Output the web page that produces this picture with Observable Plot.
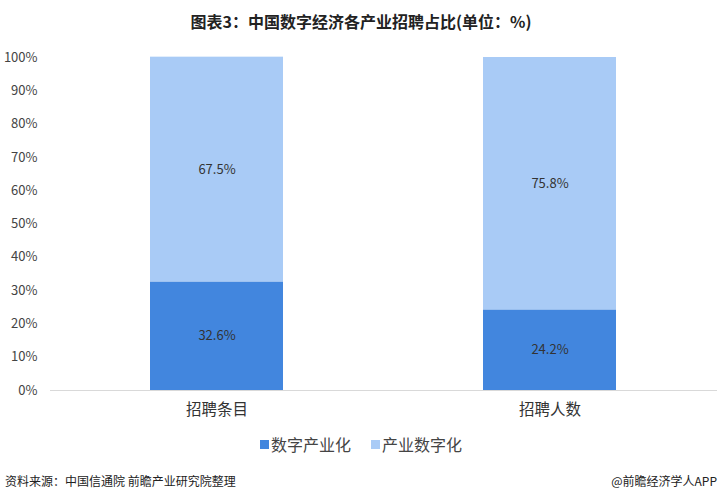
<!DOCTYPE html>
<html><head><meta charset="utf-8">
<script src="https://cdn.jsdelivr.net/npm/d3@7"></script>
<script src="https://cdn.jsdelivr.net/npm/@observablehq/plot@0.6"></script>
<style>
body{margin:0;background:#fff;font-family:"Noto Sans CJK SC","Noto Sans",sans-serif;}
#wrap{position:relative;width:722px;height:502px;overflow:hidden;}
#title{position:absolute;top:9px;left:0;width:722px;text-align:center;font-size:16px;font-weight:bold;color:#222;}
#chart{position:absolute;top:0;left:0;}
#legend{position:absolute;top:432px;left:0;width:722px;display:flex;justify-content:center;font-size:16px;color:#444;}
.li{display:flex;align-items:center;margin:0 10px;}
.sw{width:9px;height:9px;margin-right:2px;}
#src{position:absolute;top:472px;left:5px;font-size:12px;color:#222;}
#app{position:absolute;top:472px;right:5px;font-size:12px;color:#222;}
</style></head>
<body><div id="wrap">
<div id="chart"></div>
<div id="title">图表3：中国数字经济各产业招聘占比(单位：%)</div>
<div id="legend"></div>
<div id="src">资料来源：中国信通院 前瞻产业研究院整理</div>
<div id="app">@前瞻经济学人APP</div>
</div>
<script>
const categories = ["招聘条目", "招聘人数"];
const seriesNames = ["数字产业化", "产业数字化"];
const digitalIndustrialization = [32.6, 24.2];
const industrialDigitization = [67.5, 75.8];
const colors = ["#4286de", "#a9cbf6"];
const yTicks = [0,10,20,30,40,50,60,70,80,90,100];

const rows = [];
categories.forEach((c,i)=>{
  rows.push({cat:c, series:seriesNames[0], value:digitalIndustrialization[i]});
  rows.push({cat:c, series:seriesNames[1], value:industrialDigitization[i]});
});

const chart = Plot.plot({
  width: 722, height: 502,
  marginTop: 57, marginBottom: 112, marginLeft: 50, marginRight: 5,
  style: {fontFamily: '"Noto Sans CJK SC","Noto Sans",sans-serif', background: "transparent"},
  x: {domain: categories, paddingInner: 0.6, paddingOuter: 0.3, label: null, axis: null},
  y: {domain: [0,100], label: null, axis: null},
  color: {domain: seriesNames, range: colors},
  marks: [
    Plot.barY(rows, Plot.stackY({x:"cat", y:"value", fill:"series", order: seriesNames})),
    Plot.text(rows, Plot.stackY({x:"cat", y:"value", z:"series", order: seriesNames, text: d => d.value.toFixed(1) + "%", fill:"#333", fontSize:13})),
    Plot.ruleY([0], {stroke:"#d9d9d9", strokeWidth:1}),
    Plot.axisY(yTicks, {tickSize:0, tickPadding:0, dx:-13, tickFormat: d => d + "%", fontSize:13, fill:"#444", textAnchor:"end", label:null}),
    Plot.axisX({tickSize:0, tickPadding:13, fontSize:15.5, fill:"#333", label:null})
  ]
});
document.getElementById("chart").appendChild(chart);

const lg = document.getElementById("legend");
seriesNames.forEach((s,i)=>{
  const d = document.createElement("div"); d.className="li";
  d.innerHTML = `<span class="sw" style="background:${colors[i]}"></span><span>${s}</span>`;
  lg.appendChild(d);
});
</script>
</body></html>
